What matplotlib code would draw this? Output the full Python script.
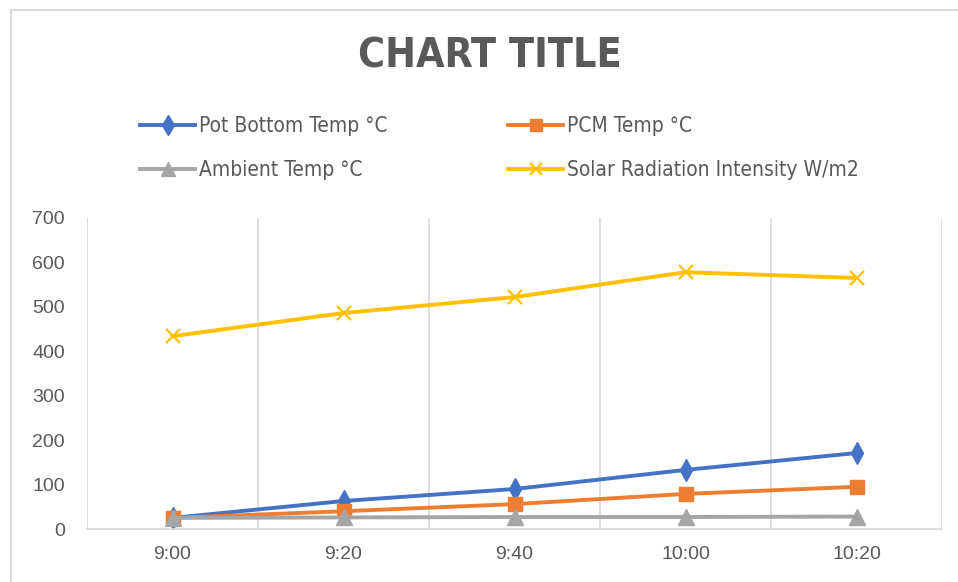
import matplotlib
matplotlib.use("Agg")
import matplotlib.pyplot as plt
from matplotlib import font_manager as fm
from matplotlib.patches import Rectangle

# datos
times = ["9:00", "9:20", "9:40", "10:00", "10:20"]
pot_bottom = [25, 63, 90, 133, 171]
pcm_temp = [25, 40, 56, 79, 95]
ambient = [25, 26, 27, 27, 28]
solar = [434, 486, 522, 578, 565]
y_ticks = [0, 100, 200, 300, 400, 500, 600, 700]

names = {f.name for f in fm.fontManager.ttflist}
narrow = "Liberation Sans Narrow" if "Liberation Sans Narrow" in names else "DejaVu Sans"
normal = "Liberation Sans" if "Liberation Sans" in names else "DejaVu Sans"
txt_color = "#595959"
grid_color = "#d9d9d9"

W, H = 958, 582
fig = plt.figure(figsize=(W / 100, H / 100), dpi=100)
ax = fig.add_axes([87 / W, 53 / H, 855 / W, 311 / H])

x = list(range(len(times)))
l1, = ax.plot(x, pot_bottom, color="#4472C4", lw=2.8, marker="d", ms=11, label="Pot Bottom Temp °C")
l2, = ax.plot(x, pcm_temp, color="#ED7D31", lw=2.8, marker="s", ms=10, label="PCM Temp °C")
l3, = ax.plot(x, ambient, color="#A5A5A5", lw=2.8, marker="^", ms=11, label="Ambient Temp °C")
l4, = ax.plot(x, solar, color="#FFC000", lw=2.8, marker="x", ms=10, mew=1.6, label="Solar Radiation Intensity W/m2")

ax.set_xlim(-0.5, len(times) - 0.5)
ax.set_ylim(0, 700)
ax.set_yticks(y_ticks)
ax.set_xticks(x)
ax.set_xticklabels(times)

# lineas verticales entre categorias
for b in [i - 0.5 for i in range(len(times) + 1)]:
    ax.axvline(b, color=grid_color, lw=1.2, zorder=0)

for s in ["top", "left", "right"]:
    ax.spines[s].set_visible(False)
ax.spines["bottom"].set_color(grid_color)
ax.spines["bottom"].set_linewidth(1.2)
ax.tick_params(axis="both", length=0, colors=txt_color)
ax.tick_params(axis="y", pad=16, labelsize=14)
ax.tick_params(axis="x", pad=12, labelsize=14)
for t in ax.get_yticklabels() + ax.get_xticklabels():
    t.set_fontfamily(normal)

fig.text(490 / W, 1 - 57 / H, "CHART TITLE", ha="center", va="center",
         fontsize=29.5, fontweight="bold", color=txt_color, family=narrow, fontstretch="condensed")

leg_kw = dict(loc="center left", frameon=False, borderpad=0, handlelength=2.6,
              handletextpad=0.2, labelspacing=1.15, labelcolor=txt_color, markerscale=0.9,
              prop={"family": narrow, "size": 15, "stretch": "condensed"})
fig.legend([l1, l3], [l1.get_label(), l3.get_label()], bbox_to_anchor=(130 / W, 1 - 148 / H), **leg_kw)
fig.legend([l2, l4], [l2.get_label(), l4.get_label()], bbox_to_anchor=(498 / W, 1 - 148 / H), **leg_kw)

fig.patches.append(Rectangle((11 / W, -0.05), 1.2, 1 - 10 / H + 0.05, transform=fig.transFigure,
                             fill=False, edgecolor=grid_color, lw=1.5))

fig.savefig("out.png", dpi=100)
